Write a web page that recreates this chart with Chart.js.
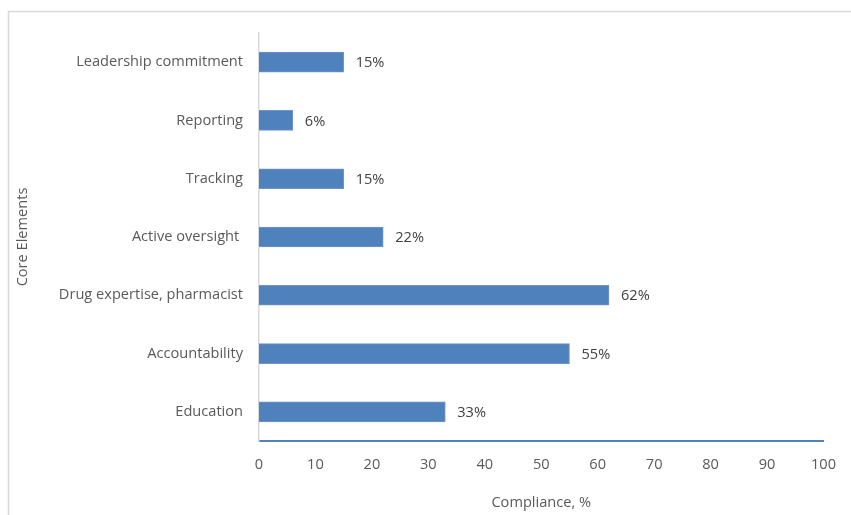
<!DOCTYPE html>
<html>
<head>
<meta charset="utf-8">
<script src="https://cdn.jsdelivr.net/npm/chart.js@4/dist/chart.umd.min.js"></script>
<style>
html,body{margin:0;padding:0;background:#fff;}
#wrap{position:relative;width:851px;height:515px;}
</style>
</head>
<body>
<div id="wrap"><canvas id="c" width="851" height="515"></canvas></div>
<script>
const categories = ["Leadership commitment", "Reporting", "Tracking", "Active oversight ", "Drug expertise, pharmacist", "Accountability", "Education"];
const compliance = [15, 6, 15, 22, 62, 55, 33];
const xTickMin = 0, xTickMax = 100, xTickStep = 10;

const FONT = "'Open Sans', 'Liberation Sans', sans-serif";
const FS = 14.6;

const framePlugin = {
  id: 'frame',
  beforeDraw(chart) {
    const ctx = chart.ctx;
    ctx.save();
    ctx.fillStyle = '#fff';
    ctx.fillRect(0, 0, chart.width, chart.height);
    ctx.strokeStyle = '#d9d9d9';
    ctx.lineWidth = 1.5;
    ctx.beginPath();
    ctx.moveTo(8.5, chart.height + 2);
    ctx.lineTo(8.5, 11.5);
    ctx.lineTo(chart.width + 2, 11.5);
    ctx.stroke();
    ctx.restore();
  }
};

const valueLabels = {
  id: 'valueLabels',
  afterDatasetsDraw(chart) {
    const ctx = chart.ctx;
    const meta = chart.getDatasetMeta(0);
    ctx.save();
    ctx.font = FS + "px " + FONT;
    ctx.fillStyle = '#404040';
    ctx.textAlign = 'left';
    ctx.textBaseline = 'middle';
    meta.data.forEach((bar, i) => {
      ctx.fillText(chart.data.datasets[0].data[i] + '%', bar.x + 12, bar.y + 1);
    });
    ctx.restore();
  }
};

new Chart(document.getElementById('c'), {
  type: 'bar',
  data: {
    labels: categories,
    datasets: [{
      data: compliance,
      backgroundColor: '#4f81bd',
      borderColor: '#7096c9',
      borderWidth: 1,
      borderSkipped: 'left',
      barThickness: 20
    }]
  },
  options: {
    indexAxis: 'y',
    responsive: false,
    animation: false,
    devicePixelRatio: 1,
    layout: { padding: { left: 0, top: 33, right: 25, bottom: 0 } },
    plugins: { legend: { display: false }, tooltip: { enabled: false } },
    scales: {
      x: {
        min: xTickMin, max: xTickMax,
        ticks: { stepSize: xTickStep, color: '#595959', font: { family: FONT, size: FS }, padding: 15 },
        grid: { display: false, drawTicks: false },
        border: { display: true, color: '#4f81bd', width: 2 },
        title: { display: true, text: 'Compliance, %', color: '#595959', font: { family: FONT, size: FS }, padding: { top: 0, bottom: 3 } },
        afterFit(scale) { scale.height = 74; }
      },
      y: {
        ticks: { color: '#595959', font: { family: FONT, size: FS }, padding: 16 },
        grid: { display: false, drawTicks: false },
        border: { display: true, color: '#d9d9d9', width: 1.5 },
        title: { display: true, text: 'Core Elements', color: '#595959', font: { family: FONT, size: FS }, padding: { top: 14, bottom: 0 } },
        afterFit(scale) { scale.width = 259; }
      }
    }
  },
  plugins: [framePlugin, valueLabels]
});
</script>
</body>
</html>
